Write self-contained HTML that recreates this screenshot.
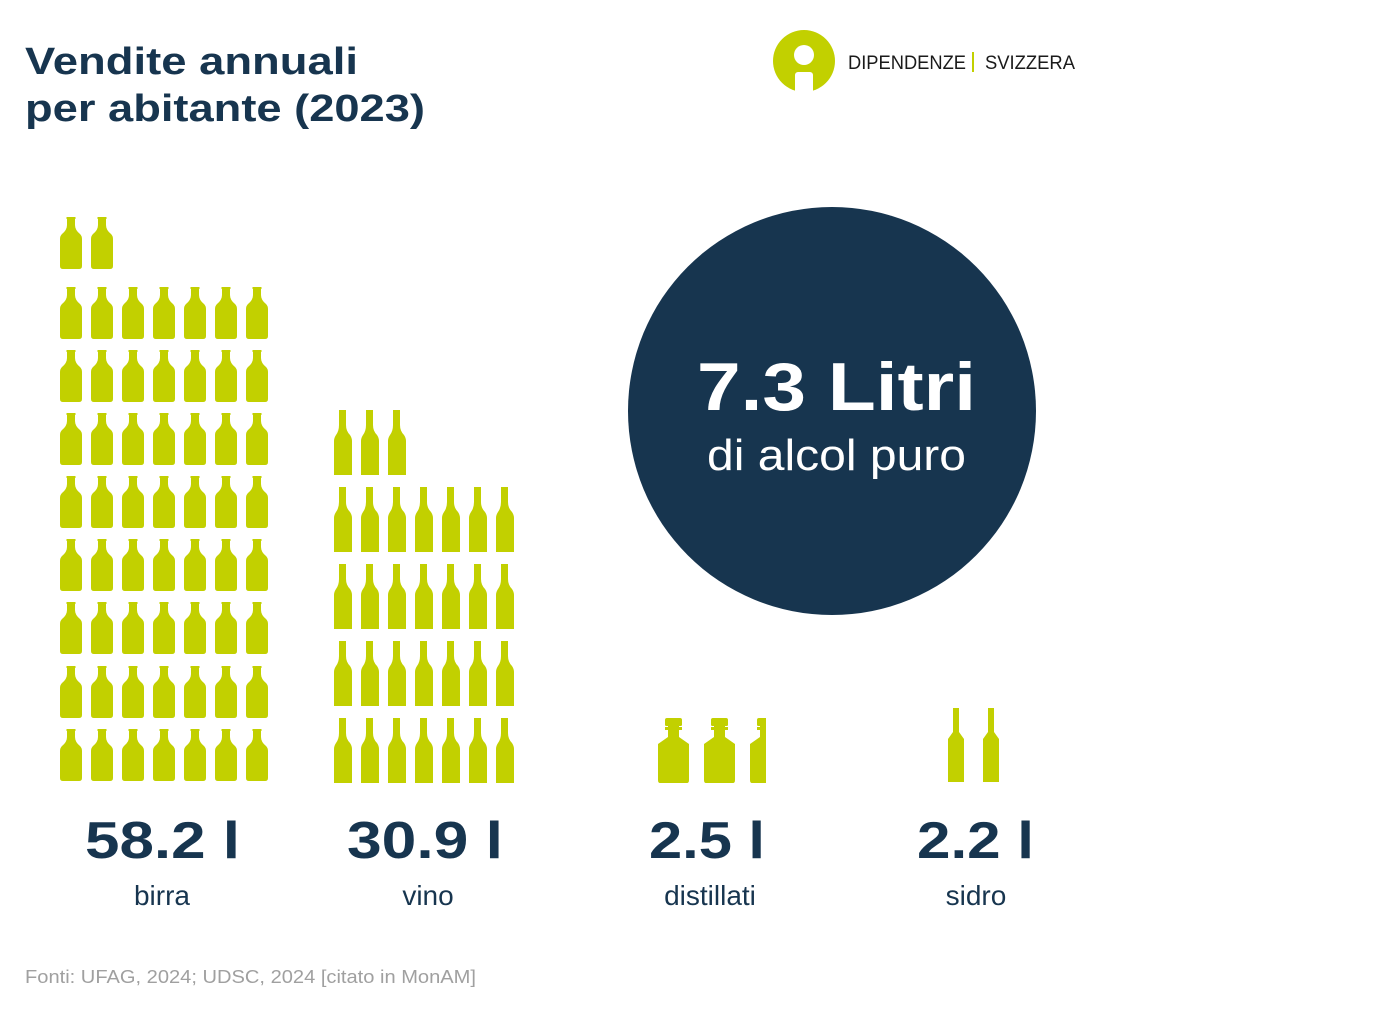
<!DOCTYPE html>
<html><head><meta charset="utf-8"><style>
body{margin:0;background:#fff;}
svg{display:block;font-family:"Liberation Sans",sans-serif;}
</style></head><body>
<svg width="1388" height="1016" viewBox="0 0 1388 1016" xmlns="http://www.w3.org/2000/svg">
<defs>
<path id="beer" fill="#c2d000" d="M6.5,0 H15.5 V2 H15 V8 Q15,13 20,17 Q22,19 22,22 V49 Q22,52 19,52 H3 Q0,52 0,49 V22 Q0,19 2,17 Q7,13 7,8 V2 H6.5 Z"/>
<path id="wine" fill="#c2d000" d="M5,0 H12 V15 Q12,21 16,25 Q18,28 18,31 V65 H0 V31 Q0,28 2,25 Q5,21 5,15 Z"/>
<path id="dist" fill="#c2d000" d="M10,0 H23 Q25,0 25,2 V7 Q25,8 23,8 H22 V9 H25 V12 H22 V19 L32,26 V62 Q32,65 30,65 H3 Q1,65 1,62 V26 L11,19 V12 H8 V9 H11 V8 H10 Q8,8 8,7 V2 Q8,0 10,0 Z"/>
<path id="cider" fill="#c2d000" d="M5,0 H11 V24 L16,31 V74 H0 V31 L5,24 Z"/>
<clipPath id="c3"><rect x="740" y="700" width="26" height="100"/></clipPath>
</defs>
<text x="25" y="74" font-size="38" font-weight="bold" fill="#17354f" textLength="333" lengthAdjust="spacingAndGlyphs">Vendite annuali</text>
<text x="25" y="121" font-size="38" font-weight="bold" fill="#17354f" textLength="400" lengthAdjust="spacingAndGlyphs">per abitante (2023)</text>
<circle cx="804" cy="61" r="31" fill="#c2d000"/>
<circle cx="804" cy="55" r="10" fill="#fff"/>
<rect x="795" y="72" width="18" height="22" rx="3" fill="#fff"/>
<text x="848" y="69" font-size="19" fill="#1a1a1a" textLength="118" lengthAdjust="spacingAndGlyphs">DIPENDENZE</text>
<rect x="972" y="52" width="2" height="20" fill="#c2d000"/>
<text x="985" y="69" font-size="19" fill="#1a1a1a" textLength="90" lengthAdjust="spacingAndGlyphs">SVIZZERA</text>
<g>
<use href="#beer" x="60" y="217"/><use href="#beer" x="91" y="217"/>
<g id="brow">
<use href="#beer" x="60" y="287"/><use href="#beer" x="91" y="287"/><use href="#beer" x="122" y="287"/><use href="#beer" x="153" y="287"/><use href="#beer" x="184" y="287"/><use href="#beer" x="215" y="287"/><use href="#beer" x="246" y="287"/>
</g>
<use href="#brow" y="63"/><use href="#brow" y="126"/><use href="#brow" y="189"/><use href="#brow" y="252"/><use href="#brow" y="315"/><use href="#brow" y="379"/><use href="#brow" y="442"/>
</g>
<g>
<use href="#wine" x="334" y="410"/><use href="#wine" x="361" y="410"/><use href="#wine" x="388" y="410"/>
<g id="wrow">
<use href="#wine" x="334" y="487"/><use href="#wine" x="361" y="487"/><use href="#wine" x="388" y="487"/><use href="#wine" x="415" y="487"/><use href="#wine" x="442" y="487"/><use href="#wine" x="469" y="487"/><use href="#wine" x="496" y="487"/>
</g>
<use href="#wrow" y="77"/><use href="#wrow" y="154"/><use href="#wrow" y="231"/>
</g>
<use href="#dist" x="657" y="718"/><use href="#dist" x="703" y="718"/>
<g clip-path="url(#c3)"><use href="#dist" x="749" y="718"/></g>
<use href="#cider" x="948" y="708"/><use href="#cider" x="983" y="708"/>
<circle cx="832" cy="411" r="204" fill="#17354f"/>
<text x="697" y="410" font-size="68" font-weight="bold" fill="#fff" textLength="279" lengthAdjust="spacingAndGlyphs">7.3 Litri</text>
<text x="707" y="470" font-size="44" fill="#fff" textLength="259" lengthAdjust="spacingAndGlyphs">di alcol puro</text>
<g font-size="52" font-weight="bold" fill="#17354f">
<text x="85" y="858" textLength="155" lengthAdjust="spacingAndGlyphs">58.2 l</text>
<text x="347" y="858" textLength="156" lengthAdjust="spacingAndGlyphs">30.9 l</text>
<text x="649" y="858" textLength="116" lengthAdjust="spacingAndGlyphs">2.5 l</text>
<text x="917" y="858" textLength="117" lengthAdjust="spacingAndGlyphs">2.2 l</text>
</g>
<g font-size="28" fill="#17354f" text-anchor="middle">
<text x="162" y="905">birra</text>
<text x="428" y="905">vino</text>
<text x="710" y="905">distillati</text>
<text x="976" y="905">sidro</text>
</g>
<text x="25" y="983" font-size="18" fill="#a0a0a0" textLength="451" lengthAdjust="spacingAndGlyphs">Fonti: UFAG, 2024; UDSC, 2024 [citato in MonAM]</text>
</svg>
</body></html>
